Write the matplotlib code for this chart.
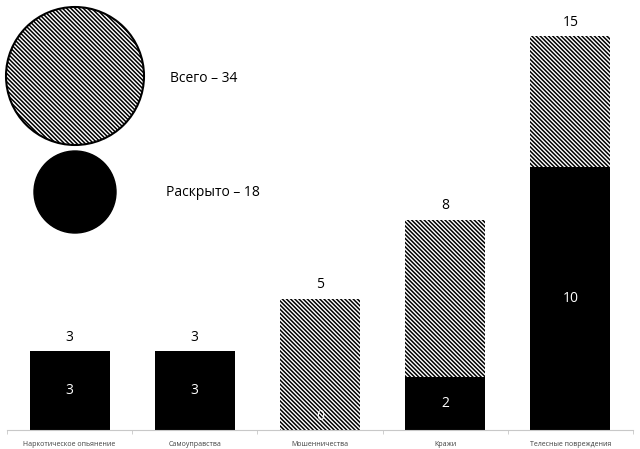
import matplotlib
matplotlib.use("Agg")
import matplotlib.pyplot as plt
from matplotlib.patches import Circle
import numpy as np

categories = ["Наркотическое опьянение", "Самоуправства", "Мошенничества",
              "Кражи", "Телесные повреждения"]
total = [3, 3, 5, 8, 15]
solved = [3, 3, 0, 2, 10]
total_sum = 34
solved_sum = 18

plt.rcParams['font.family'] = ['Open Sans', 'DejaVu Sans']
plt.rcParams['hatch.linewidth'] = 1.1
HATCH = "\\" * 8

fig = plt.figure(figsize=(6.4, 4.49), dpi=100)
# axes: baseline at y=430 px, value 15 at y=36 px
ax = fig.add_axes([7 / 640, 1 - 430 / 449, 626 / 640, 394 / 449])

x = np.arange(len(categories))
ax.bar(x, total, width=0.64, color="white", edgecolor="black",
       hatch=HATCH, linewidth=0)
ax.bar(x, solved, width=0.64, color="black", linewidth=0)

for xi, t in zip(x, total):
    ax.text(xi, t + 0.53, str(t), ha="center", va="center", fontsize=10)
for xi, s in zip(x, solved):
    ax.text(xi, max(s / 2, 0.5), str(s), ha="center", va="center",
            fontsize=10, color="white")

ax.set_xlim(-0.5, len(categories) - 0.5)
ax.set_ylim(0, 15)
for side in ["top", "right", "left"]:
    ax.spines[side].set_visible(False)
ax.spines["bottom"].set_color("#c8c8c8")
ax.set_yticks([])
ax.set_xticks(np.arange(len(categories) + 1) - 0.5, minor=True)
ax.set_xticks(x)
ax.set_xticklabels(categories, fontsize=5, color="#404040")
ax.tick_params(axis="x", which="major", length=0, pad=8)
ax.tick_params(axis="x", which="minor", length=3, color="#c8c8c8")

# legend circles drawn in pixel coordinates
ov = fig.add_axes([0, 0, 1, 1])
ov.set_xlim(0, 640)
ov.set_ylim(449, 0)
ov.axis("off")
ov.patch.set_alpha(0)
ov.add_patch(Circle((75, 76), 69, facecolor="white", edgecolor="black",
                    hatch=HATCH, linewidth=1.5))
ov.add_patch(Circle((75, 192), 41, facecolor="black", edgecolor="black"))
ov.text(170, 79, f"Всего – {total_sum}", fontsize=10, va="center")
ov.text(166, 192, f"Раскрыто – {solved_sum}", fontsize=10, va="center")

fig.savefig("out.png", dpi=100)
